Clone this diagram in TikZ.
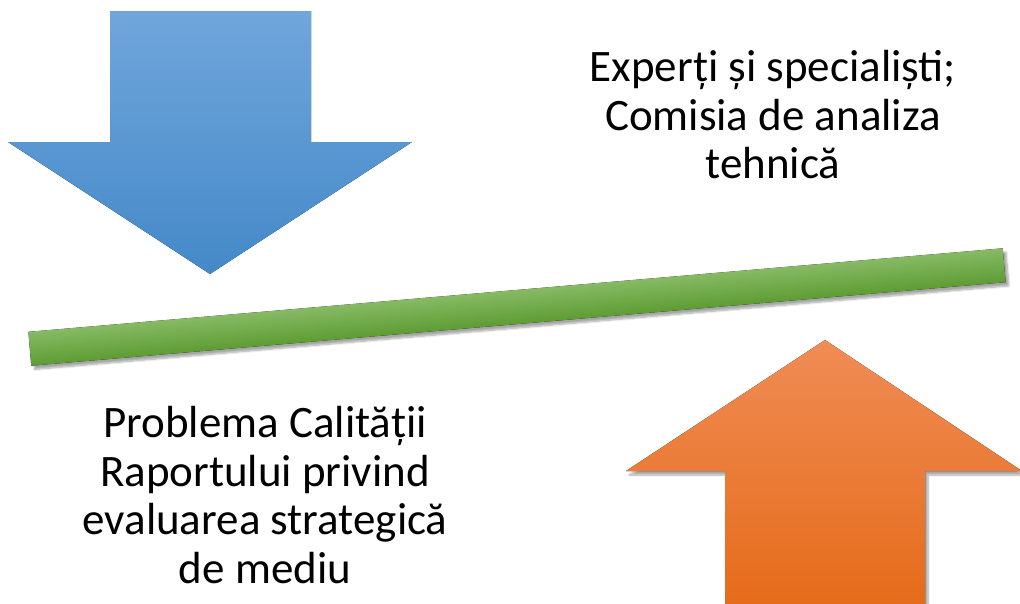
\documentclass[tikz,border=0pt]{standalone}
\usepackage{fontspec}
\setmainfont{Carlito}
\usetikzlibrary{shadows.blur}
\definecolor{bluetop}{HTML}{70A6DB}
\definecolor{bluebot}{HTML}{4489C8}
\definecolor{orgtop}{HTML}{F08C55}
\definecolor{orgbot}{HTML}{E56B1A}
\definecolor{grntop}{HTML}{86BA64}
\definecolor{grnbot}{HTML}{5E9C34}
\tikzset{
  lbl/.style={align=center, font=\fontsize{45}{48.5}\selectfont, text=black, inner sep=0pt},
  shd/.style={blur shadow={shadow xshift=3pt, shadow yshift=-4pt, shadow blur steps=8, shadow opacity=35}}
}
\begin{document}
\begin{tikzpicture}[x=1pt,y=-1pt]
\useasboundingbox (0,0) rectangle (1020,603);
% blue down arrow
\fill[top color=bluetop, bottom color=bluebot]
  (110,11) -- (311,11) -- (311,142) -- (412,142) -- (210,274) -- (8,142) -- (110,142) -- cycle;
% green bar
\begin{scope}[transform canvas={shift={(517,307)}, rotate=4.9}]
  \fill[shd, top color=grntop, bottom color=grnbot] (-489,-17) rectangle (489,17);
\end{scope}
% orange up arrow
\fill[shd, top color=orgtop, bottom color=orgbot]
  (825,340) -- (1022,471) -- (925,471) -- (925,606) -- (725,606) -- (725,471) -- (626,471) -- cycle;
\node[lbl] (experts) at (773,115) {Experți și specialiști;\\Comisia de analiza\\tehnică};
\node[lbl] (problem) at (265,495) {Problema Calității\\Raportului privind\\evaluarea strategică\\de mediu};
\end{tikzpicture}
\end{document}
